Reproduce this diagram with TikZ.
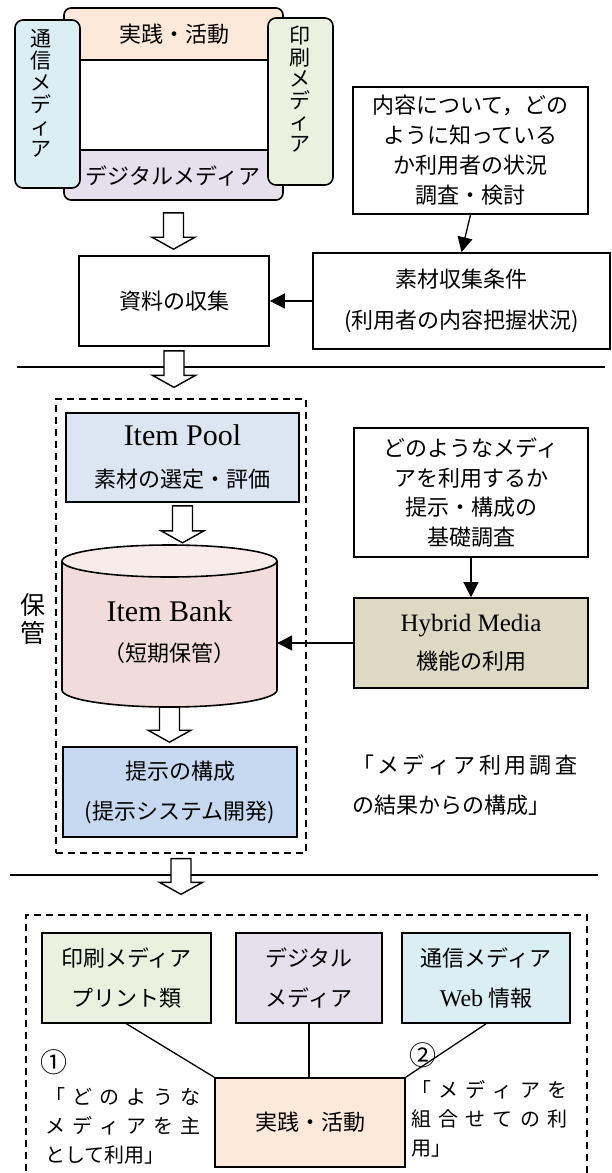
\documentclass[tikz,border=0pt]{standalone}
\usepackage{fontspec}
\setmainfont{Noto Sans CJK JP}
\newfontfamily\lat{Liberation Serif}
\usetikzlibrary{arrows.meta,calc}

\definecolor{actorange}{HTML}{FDE9D9}
\definecolor{diglav}{HTML}{E5E0EC}
\definecolor{commblue}{HTML}{DAEEF3}
\definecolor{printgreen}{HTML}{EBF1DE}
\definecolor{poolblue}{HTML}{DCE6F2}
\definecolor{presblue}{HTML}{C6D9F1}
\definecolor{hybridtan}{HTML}{DDD9C3}
\definecolor{bankpink}{HTML}{F2DCDB}
\definecolor{banktop}{HTML}{F8EBEA}

\newcommand{\jpt}{\fontsize{22}{30}\selectfont}

% hollow down arrow: from #1 (+#3 below) to #2 (-#4 above)
\newcommand{\fatarrow}[4]{%
  \draw[hollow] let \p1=($(#1)+(0,#3)$), \p2=($(#2)+(0,-#4)$) in
    (\x1-10pt,\y1) -- (\x1+10pt,\y1) -- (\x1+10pt,\y2+12pt) -- (\x1+21.5pt,\y2+12pt)
    -- (\x1,\y2) -- (\x1-21.5pt,\y2+12pt) -- (\x1-10pt,\y2+12pt) -- cycle;}

\tikzset{
  box/.style={draw, line width=1.6pt, inner sep=0pt, align=center, font=\jpt},
  plain/.style={inner sep=0pt, align=center, font=\jpt},
  conn/.style={line width=1.3pt, -{Triangle[length=15pt,width=15pt]}},
  link/.style={line width=1.3pt},
  hollow/.style={draw, fill=white, line width=1.4pt, line join=miter},
  dashbox/.style={draw, line width=1.3pt, dash pattern=on 7pt off 5pt, inner sep=0pt},
  sepline/.style={line width=1.3pt},
}

\begin{document}
\begin{tikzpicture}[x=1pt,y=-1pt]
  \useasboundingbox (0,0) rectangle (611,1173);

  % media overview
  \begin{scope}
    \clip[rounded corners=7pt] (64,8) rectangle (283,200);
    \fill[actorange] (64,8) rectangle (283,60);
    \fill[diglav] (64,150) rectangle (283,200);
  \end{scope}
  \node[draw, line width=1.6pt, rounded corners=7pt, inner sep=0pt,
        minimum width=219pt, minimum height=192pt] (media) at (173.5,104) {};
  \draw[line width=1.3pt] (64,60) -- (283,60);
  \draw[line width=1.3pt] (64,150) -- (283,150);
  \node[plain] (topact) at (174,34) {実践・活動};
  \node[plain] (topdig) at (173,176) {デジタルメディア};
  \node[box, fill=commblue, rounded corners=8pt, minimum width=65pt,
        minimum height=168pt] (vcomm) at (47.5,104) {};
  \node[plain, font=\fontsize{21}{22}\selectfont] (vcommtxt) at (41,93)
    {通\\信\\メ\\デ\\ィ\\ア};
  \node[box, fill=printgreen, rounded corners=8pt, minimum width=65pt,
        minimum height=167pt] (vprint) at (300.5,101.5) {};
  \node[plain, font=\fontsize{21}{21.6}\selectfont] (vprinttxt) at (300,89)
    {印\\刷\\メ\\デ\\ィ\\ア};

  % collection
  \node[box, minimum width=235pt, minimum height=127pt] (survey) at (470.5,150.5)
    {内容について，どの\\ように知っている\\か利用者の状況\\調査・検討};
  \node[box, minimum width=297pt, minimum height=96pt,
        font=\fontsize{22}{41}\selectfont] (cond) at (461.5,301)
    {素材収集条件\\(利用者の内容把握状況)};
  \node[box, minimum width=190pt, minimum height=90pt] (collect) at (174,301)
    {資料の収集};
  \draw[conn] (survey.south) -- (cond.north);
  \draw[conn] (cond.west) -- (collect.east);

  \draw[sepline] (17,367) -- (605,367);

  % storage
  \node[dashbox, minimum width=250pt, minimum height=454pt] (store) at (181,626) {};
  \node[plain, font=\fontsize{25}{28}\selectfont] (storelbl) at (33,619) {保\\管};
  \node[box, fill=poolblue, minimum width=233pt, minimum height=89pt,
        font=\fontsize{22}{42}\selectfont] (pool) at (182.5,457.5)
    {{\lat\fontsize{30}{42}\selectfont Item Pool}\\素材の選定・評価};

  \fill[bankpink] (62,561) rectangle (277,690);
  \fill[bankpink] (169.5,690) ellipse [x radius=107.5, y radius=17];
  \draw[line width=1.6pt] (62,561) -- (62,690)
    arc[start angle=180, end angle=0, x radius=107.5, y radius=17] -- (277,561);
  \draw[line width=1.6pt, fill=banktop] (169.5,561) ellipse [x radius=107.5, y radius=16];
  \node[inner sep=0pt, minimum width=215pt, minimum height=162pt] (bank) at (169.5,626) {};
  \node[plain, font=\fontsize{22}{40}\selectfont] (banktxt) at (169.5,632)
    {{\lat\fontsize{30}{40}\selectfont Item Bank}\\（短期保管）};

  \node[box, fill=presblue, minimum width=234pt, minimum height=90pt,
        font=\fontsize{22}{40}\selectfont] (present) at (180,792)
    {提示の構成\\(提示システム開発)};

  \node[box, minimum width=234pt, minimum height=129pt,
        font=\fontsize{22}{29.5}\selectfont] (mediaq) at (471,492.5)
    {どのようなメディ\\アを利用するか\\提示・構成の\\基礎調査};
  \node[box, fill=hybridtan, minimum width=234pt, minimum height=90pt,
        font=\fontsize{22}{38}\selectfont] (hybrid) at (471,643)
    {{\lat\fontsize{25}{38}\selectfont Hybrid Media}\\機能の利用};
  \draw[conn] (mediaq.south) -- (hybrid.north);
  \draw[conn] (hybrid.west) -- (hybrid.west -| bank.east);

  \node[plain, anchor=west, align=left, font=\fontsize{22}{40}\selectfont] (note1)
    at (352,785) {\makebox[225pt][s]{「 メ デ ィ ア 利 用 調 査}\\の結果からの構成」};

  \draw[sepline] (10,875) -- (598,875);

  % practice
  \node[dashbox, minimum width=561pt, minimum height=285pt] (practice) at (306.5,1057.5) {};
  \node[box, fill=printgreen, minimum width=169pt, minimum height=90pt,
        font=\fontsize{22}{40}\selectfont] (print) at (126.5,978)
    {印刷メディア\\プリント類};
  \node[box, fill=diglav, minimum width=146pt, minimum height=90pt,
        font=\fontsize{22}{40}\selectfont] (digital) at (309,978)
    {デジタル\\メディア};
  \node[box, fill=commblue, minimum width=168pt, minimum height=90pt,
        font=\fontsize{22}{40}\selectfont] (comm) at (486,978)
    {通信メディア\\{\lat\fontsize{24}{40}\selectfont Web} 情報};
  \node[box, fill=actorange, minimum width=190pt, minimum height=89pt] (act)
    at (310,1122.5) {実践・活動};
  \draw[link] (print.south) -- (act.north west);
  \draw[link] (digital.south) -- (digital.south |- act.north);
  \draw[link] (comm.south) -- (act.north east);

  \node[plain, font=\fontsize{27}{30}\selectfont] (n1) at (54,1062) {①};
  \node[plain, font=\fontsize{27}{30}\selectfont] (n2) at (423,1055) {②};
  \node[plain, anchor=west, align=left, font=\fontsize{20}{29}\selectfont] (note2)
    at (45,1126) {\makebox[155pt][s]{「 ど の よ う な}\\
      \makebox[155pt][s]{メ デ ィ ア を 主}\\として利用」};
  \node[plain, anchor=west, align=left, font=\fontsize{20}{29}\selectfont] (note3)
    at (411,1119) {\makebox[156pt][s]{「 メ デ ィ ア を}\\
      \makebox[156pt][s]{組 合 せ て の 利}\\用」};

  % hollow arrows
  \fatarrow{media.south}{collect.north}{12}{6}
  \fatarrow{collect.south}{store.north}{4}{11}
  \fatarrow{pool.south}{bank.north}{3}{2}
  \fatarrow{bank.south}{present.north}{0}{4}
  \fatarrow{store.south}{practice.north}{5}{20}
\end{tikzpicture}
\end{document}
